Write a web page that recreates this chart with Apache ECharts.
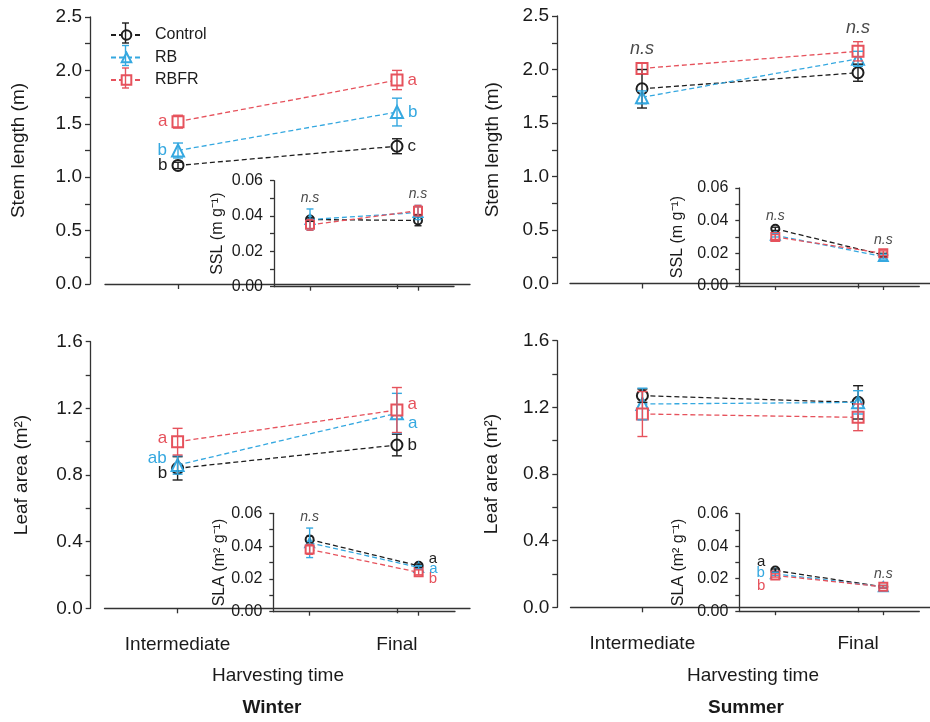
<!DOCTYPE html>
<html>
<head>
<meta charset="utf-8">
<script src="https://cdn.jsdelivr.net/npm/echarts@6/dist/echarts.min.js"></script>
<style>
  html, body { margin: 0; padding: 0; background: #ffffff; }
  #chart { width: 930px; height: 722px; }
</style>
</head>
<body>
<div id="chart"></div>
<script>
// Treatments
const treatments = ['Control', 'RB', 'RBFR'];

// Harvesting time slots on the x axis (blank slots only pad the two ends)
const timeSlots = ['', 'Intermediate', '', '', 'Final', ''];
const timeIndex = [1, 4];

// Rows: Control, RB, RBFR; columns: Intermediate, Final
// Stem length (m)
const stemWinterMean = [[1.11, 1.29], [1.25, 1.61], [1.52, 1.91]];
const stemWinterErr = [[0.03, 0.07], [0.07, 0.13], [0.06, 0.09]];
const stemWinterLetters = [['b', 'c'], ['b', 'b'], ['a', 'a']];
const stemSummerMean = [[1.82, 1.97], [1.74, 2.10], [2.01, 2.17]];
const stemSummerErr = [[0.18, 0.08], [0.06, 0.07], [0.05, 0.09]];
const stemSummerNs = [true, true];

// Specific stem length, SSL (m g-1)
const sslWinterMean = [[0.038, 0.0375], [0.038, 0.042], [0.035, 0.043]];
const sslWinterErr = [[0.001, 0.003], [0.006, 0.004], [0.003, 0.003]];
const sslWinterNs = [true, true];
const sslSummerMean = [[0.035, 0.019], [0.031, 0.018], [0.030, 0.020]];
const sslSummerErr = [[0.001, 0.001], [0.001, 0.0015], [0.0015, 0.0015]];
const sslSummerNs = [true, true];

// Leaf area (m2)
const leafWinterMean = [[0.84, 0.98], [0.86, 1.17], [1.00, 1.19]];
const leafWinterErr = [[0.07, 0.065], [0.055, 0.12], [0.08, 0.135]];
const leafWinterLetters = [['b', 'b'], ['ab', 'a'], ['a', 'a']];
const leafSummerMean = [[1.27, 1.23], [1.22, 1.23], [1.16, 1.14]];
const leafSummerErr = [[0.04, 0.10], [0.095, 0.07], [0.135, 0.08]];

// Specific leaf area, SLA (m2 g-1)
const slaWinterMean = [[0.044, 0.028], [0.042, 0.027], [0.038, 0.024]];
const slaWinterErr = [[0.002, 0.001], [0.009, 0.001], [0.003, 0.0015]];
const slaWinterLetters = [['', 'a'], ['', 'a'], ['', 'b']];
const slaWinterNs = [true, false];
const slaSummerMean = [[0.025, 0.015], [0.023, 0.015], [0.022, 0.015]];
const slaSummerErr = [[0.001, 0.0008], [0.001, 0.0008], [0.001, 0.0008]];
const slaSummerLetters = [['a', ''], ['b', ''], ['b', '']];
const slaSummerNs = [false, true];

// ---- styling ----
const FONT = "'Liberation Sans', Arial, Helvetica, sans-serif";
const colors = ['#1e1e1e', '#35a8e0', '#e6525c'];
const symbols = ['emptyCircle', 'emptyTriangle', 'emptyRect'];
const axisColor = '#333333';
const textColor = '#1a1a1a';

// Panel layout: four main panels, each with an inset
const panels = [
  { mean: stemWinterMean, err: stemWinterErr, letters: stemWinterLetters,
    grid: { left: 105, top: 17, width: 365, height: 267 }, yOff: 15, xOff: 13,
    yMax: 2.5, yStep: 0.25, major: 0.5, digits: 1, name: 'Stem length (m)', nameGap: 62, inset: false, showX: false },
  { mean: sslWinterMean, err: sslWinterErr, ns: sslWinterNs,
    grid: { left: 274, top: 180.7, width: 180, height: 106 }, yOff: 0, xOff: 0,
    yMax: 0.06, yStep: 0.01, major: 0.02, digits: 2, name: 'SSL (m g\u207B\u00B9)', nameGap: 48, inset: true, showX: false },
  { mean: stemSummerMean, err: stemSummerErr, ns: stemSummerNs,
    grid: { left: 570, top: 16, width: 365, height: 267.5 }, yOff: 13, xOff: 13,
    yMax: 2.5, yStep: 0.25, major: 0.5, digits: 1, name: 'Stem length (m)', nameGap: 55, inset: false, showX: false },
  { mean: sslSummerMean, err: sslSummerErr, ns: sslSummerNs,
    grid: { left: 739.3, top: 188, width: 180, height: 98 }, yOff: 0, xOff: 0,
    yMax: 0.06, yStep: 0.01, major: 0.02, digits: 2, name: 'SSL (m g\u207B\u00B9)', nameGap: 54, inset: true, showX: false },
  { mean: leafWinterMean, err: leafWinterErr, letters: leafWinterLetters,
    letterShift: [[5, 0], [-7, 10], [-3, -6]],
    grid: { left: 104.5, top: 341.7, width: 365.5, height: 266.6 }, yOff: 13.8, xOff: 14.4,
    yMax: 1.6, yStep: 0.2, major: 0.4, digits: 1, name: 'Leaf area (m\u00B2)', nameGap: 59, inset: false, showX: true },
  { mean: slaWinterMean, err: slaWinterErr, letters: slaWinterLetters, ns: slaWinterNs,
    letterShift: [[0, -7], [0, 1], [0, 7]],
    grid: { left: 273.3, top: 513.3, width: 181.7, height: 98.4 }, yOff: 0, xOff: 0,
    yMax: 0.06, yStep: 0.01, major: 0.02, digits: 2, name: 'SLA (m\u00B2 g\u207B\u00B9)', nameGap: 46, inset: true, showX: false },
  { mean: leafSummerMean, err: leafSummerErr,
    grid: { left: 570.5, top: 340.7, width: 365, height: 266.6 }, yOff: 13.2, xOff: 14.4,
    yMax: 1.6, yStep: 0.2, major: 0.4, digits: 1, name: 'Leaf area (m\u00B2)', nameGap: 56, inset: false, showX: true },
  { mean: slaSummerMean, err: slaSummerErr, letters: slaSummerLetters, ns: slaSummerNs,
    letterShift: [[-9, 0], [-1, 0], [10, 0]],
    grid: { left: 739.3, top: 513.7, width: 180, height: 97.5 }, yOff: 0, xOff: 0,
    yMax: 0.06, yStep: 0.01, major: 0.02, digits: 2, name: 'SLA (m\u00B2 g\u207B\u00B9)', nameGap: 53, inset: true, showX: false }
];

const grids = [], xAxes = [], yAxes = [], series = [];
const slotShown = (i, v) => v !== '';

panels.forEach((p, pi) => {
  const small = p.inset;
  const tickLen = small ? 4 : 5;
  grids.push(Object.assign({ containLabel: false }, p.grid));

  xAxes.push({
    type: 'category', gridIndex: pi, data: timeSlots, boundaryGap: false, offset: p.xOff,
    axisLine: { show: true, lineStyle: { color: axisColor, width: 1.3 } },
    axisTick: { show: true, interval: slotShown, length: tickLen, lineStyle: { color: axisColor, width: 1.3 } },
    axisLabel: { show: p.showX, interval: slotShown, fontSize: 19, fontFamily: FONT, color: textColor, margin: 13 },
    splitLine: { show: false }
  });

  yAxes.push({
    type: 'value', gridIndex: pi, min: 0, max: p.yMax, interval: p.yStep, offset: p.yOff,
    axisLine: { show: true, lineStyle: { color: axisColor, width: 1.3 } },
    axisTick: { show: true, length: tickLen, lineStyle: { color: axisColor, width: 1.3 } },
    axisLabel: {
      fontSize: small ? 16 : 19, fontFamily: FONT, color: textColor, margin: small ? 11 : 8,
      formatter: v => {
        const r = v / p.major;
        return Math.abs(r - Math.round(r)) < 1e-6 ? v.toFixed(p.digits) : '';
      }
    },
    splitLine: { show: false },
    name: p.name, nameLocation: 'middle', nameGap: p.nameGap,
    nameTextStyle: { fontSize: small ? 16 : 19, fontFamily: FONT, color: textColor }
  });

  const symSize = small ? 8 : 11;
  const capW = small ? 7 : 10;

  treatments.forEach((name, g) => {
    // mean values joined by dashed lines, with significance letters
    series.push({
      type: 'line', name: name, xAxisIndex: pi, yAxisIndex: pi,
      data: timeIndex.map((t, k) => {
        const item = { value: [t, p.mean[g][k]] };
        const letter = p.letters ? p.letters[g][k] : '';
        if (letter) {
          const dy = p.letterShift ? p.letterShift[g][k] : 0;
          item.label = {
            show: true, formatter: letter, position: k === 0 ? 'left' : 'right',
            distance: small ? 5 : 4, offset: [0, dy],
            color: colors[g], fontSize: small ? 15 : 17, fontFamily: FONT
          };
        }
        return item;
      }),
      symbol: symbols[g], symbolSize: g === 1 ? symSize + 1 : symSize,
      lineStyle: { color: colors[g], width: 1.3, type: [5, 3] },
      itemStyle: { color: colors[g], borderWidth: 1.4 },
      emphasis: { disabled: true }, animation: false, z: 3 + g
    });

    // standard error bars
    series.push({
      type: 'custom', xAxisIndex: pi, yAxisIndex: pi,
      data: timeIndex.map((t, k) => [t, p.mean[g][k], p.err[g][k]]),
      encode: { x: 0, y: 1 },
      renderItem: (params, api) => {
        const x = api.value(0), m = api.value(1), e = api.value(2);
        const top = api.coord([x, m + e]);
        const bot = api.coord([x, m - e]);
        const st = { stroke: colors[g], lineWidth: 1.4 };
        return {
          type: 'group', children: [
            { type: 'line', shape: { x1: top[0], y1: top[1], x2: bot[0], y2: bot[1] }, style: st },
            { type: 'line', shape: { x1: top[0] - capW / 2, y1: top[1], x2: top[0] + capW / 2, y2: top[1] }, style: st },
            { type: 'line', shape: { x1: bot[0] - capW / 2, y1: bot[1], x2: bot[0] + capW / 2, y2: bot[1] }, style: st }
          ]
        };
      },
      silent: true, animation: false, z: 8 + g
    });
  });

  // "n.s" marks above the highest error bar of a harvest
  if (p.ns) {
    const nsData = [];
    timeIndex.forEach((t, k) => {
      if (!p.ns[k]) return;
      const topVal = Math.max(...treatments.map((_, g) => p.mean[g][k] + p.err[g][k]));
      nsData.push([t, topVal]);
    });
    series.push({
      type: 'custom', xAxisIndex: pi, yAxisIndex: pi, data: nsData, encode: { x: 0, y: 1 },
      renderItem: (params, api) => {
        const c = api.coord([api.value(0), api.value(1)]);
        return {
          type: 'text', x: c[0], y: c[1] - (small ? 4 : 5),
          style: {
            text: 'n.s', fill: '#4a4a4a', align: 'center', verticalAlign: 'bottom',
            font: 'italic ' + (small ? 14 : 18) + 'px ' + FONT
          }
        };
      },
      silent: true, animation: false, z: 12
    });
  }
});

// Legend placement; error-bar glyphs are drawn through each legend icon
const legendLeft = 105, legendTop = 22, legendIconW = 31, legendRowGap = 6.5;
const legendIconX = legendLeft + 5 + legendIconW / 2;
const legendRowY = [33, 55.5, 78];
const legendBars = [];
legendRowY.forEach((y, g) => {
  const st = { stroke: colors[g], lineWidth: 1.4 };
  legendBars.push(
    { type: 'line', z: 100, shape: { x1: legendIconX, y1: y - 10, x2: legendIconX, y2: y + 10 }, style: st },
    { type: 'line', z: 100, shape: { x1: legendIconX - 3.5, y1: y - 10, x2: legendIconX + 3.5, y2: y - 10 }, style: st },
    { type: 'line', z: 100, shape: { x1: legendIconX - 3.5, y1: y + 10, x2: legendIconX + 3.5, y2: y + 10 }, style: st }
  );
});

const option = {
  backgroundColor: '#ffffff',
  animation: false,
  textStyle: { fontFamily: FONT },
  legend: {
    data: treatments, orient: 'vertical', left: legendLeft, top: legendTop,
    itemWidth: legendIconW, itemHeight: 12, itemGap: legendRowGap,
    textStyle: { fontSize: 16, color: textColor, fontFamily: FONT, padding: [0, 0, 0, 8] },
    selectedMode: false
  },
  grid: grids,
  xAxis: xAxes,
  yAxis: yAxes,
  series: series,
  graphic: legendBars.concat([
    { type: 'text', x: 278, y: 676, style: { text: 'Harvesting time', align: 'center', verticalAlign: 'middle', font: '19px ' + FONT, fill: textColor } },
    { type: 'text', x: 753, y: 676, style: { text: 'Harvesting time', align: 'center', verticalAlign: 'middle', font: '19px ' + FONT, fill: textColor } },
    { type: 'text', x: 272, y: 708, style: { text: 'Winter', align: 'center', verticalAlign: 'middle', font: 'bold 19px ' + FONT, fill: textColor } },
    { type: 'text', x: 746, y: 708, style: { text: 'Summer', align: 'center', verticalAlign: 'middle', font: 'bold 19px ' + FONT, fill: textColor } }
  ])
};

const chart = echarts.init(document.getElementById('chart'), null, { renderer: 'canvas' });
chart.setOption(option);
</script>
</body>
</html>
